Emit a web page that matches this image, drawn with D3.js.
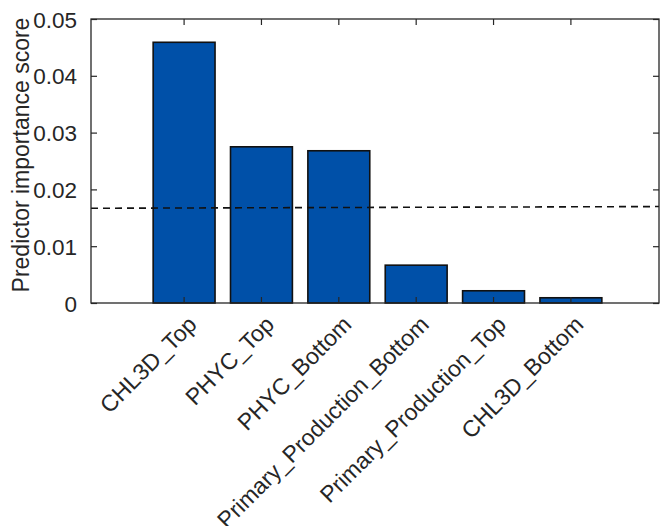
<!DOCTYPE html>
<html>
<head>
<meta charset="utf-8">
<script src="https://cdn.jsdelivr.net/npm/d3@7"></script>
<style>
  html, body { margin: 0; padding: 0; background: #fff; }
  svg { display: block; }
  text { font-family: "Liberation Sans", Arial, Helvetica, sans-serif; fill: #262626; }
</style>
</head>
<body>
<script>
// Predictor importance estimates
const predictors = ["CHL3D_Top", "PHYC_Top", "PHYC_Bottom",
                    "Primary_Production_Bottom", "Primary_Production_Top", "CHL3D_Bottom"];
const importance = [0.0459, 0.0275, 0.0268, 0.00666, 0.00215, 0.00092];
// threshold reference line, value at left and right ends of the axes
const thresholdEnds = [0.01668, 0.01698];
const yTicks = [0, 0.01, 0.02, 0.03, 0.04, 0.05];
const yTickLabels = ["0", "0.01", "0.02", "0.03", "0.04", "0.05"];

const W = 661, H = 526;
const box = { left: 91, right: 659, top: 19, bottom: 303 };

const svg = d3.select("body").append("svg")
  .attr("width", W).attr("height", H);

svg.append("rect").attr("width", W).attr("height", H).attr("fill", "#fff");

const x = d3.scaleBand()
  .domain(predictors)
  .range([99, 656])
  .paddingInner(0.2)
  .paddingOuter(0.7);

const y = d3.scaleLinear()
  .domain([0, 0.05])
  .range([box.bottom, box.top]);

// bars
svg.append("g")
  .selectAll("rect")
  .data(predictors)
  .join("rect")
  .attr("x", d => x(d))
  .attr("width", x.bandwidth())
  .attr("y", (d, i) => y(importance[i]))
  .attr("height", (d, i) => y(0) - y(importance[i]))
  .attr("fill", "#0050A8")
  .attr("stroke", "#111")
  .attr("stroke-width", 1.6);

// dashed threshold
const xl = d3.scaleLinear().domain([0, 1]).range([box.left, box.right]);
svg.append("line")
  .attr("x1", xl(0)).attr("x2", xl(1))
  .attr("y1", y(thresholdEnds[0])).attr("y2", y(thresholdEnds[1]))
  .attr("stroke", "#111")
  .attr("stroke-width", 1.6)
  .attr("stroke-dasharray", "7,5");

const axisColor = "#262626";
const tickLen = 6;

// left axis with inward ticks
const yAxisL = svg.append("g")
  .attr("transform", `translate(${box.left},0)`)
  .call(d3.axisLeft(y).tickValues(yTicks)
    .tickFormat((d, i) => yTickLabels[i])
    .tickSizeInner(-tickLen).tickSizeOuter(0).tickPadding(8 + tickLen));
// right axis ticks
const yAxisR = svg.append("g")
  .attr("transform", `translate(${box.right},0)`)
  .call(d3.axisRight(y).tickValues(yTicks).tickFormat("")
    .tickSizeInner(-tickLen).tickSizeOuter(0));
// bottom axis ticks at category centres
const xAxisB = svg.append("g")
  .attr("transform", `translate(0,${box.bottom})`)
  .call(d3.axisBottom(x).tickFormat("").tickSizeInner(-tickLen).tickSizeOuter(0));
// top axis ticks
const xAxisT = svg.append("g")
  .attr("transform", `translate(0,${box.top})`)
  .call(d3.axisTop(x).tickFormat("").tickSizeInner(-tickLen).tickSizeOuter(0));

[yAxisL, yAxisR, xAxisB, xAxisT].forEach(g => {
  g.select(".domain").remove();
  g.selectAll(".tick line").attr("stroke", axisColor).attr("stroke-width", 1.2);
});
yAxisL.selectAll(".tick text")
  .style("font-size", "22.5px")
  .attr("fill", axisColor)
  .attr("dy", "0.36em");

// axes box
svg.append("rect")
  .attr("x", box.left).attr("y", box.top)
  .attr("width", box.right - box.left).attr("height", box.bottom - box.top)
  .attr("fill", "none")
  .attr("stroke", axisColor)
  .attr("stroke-width", 1.3);

// rotated category labels
svg.append("g")
  .selectAll("text")
  .data(predictors)
  .join("text")
  .attr("transform", d => `translate(${x(d) + x.bandwidth() / 2 + 14},326) rotate(-45)`)
  .attr("text-anchor", "end")
  .style("font-size", "23px")
  .text(d => d);

// y-axis title
svg.append("text")
  .attr("transform", `translate(29,155) rotate(-90)`)
  .attr("text-anchor", "middle")
  .style("font-size", "23px")
  .text("Predictor importance score");
</script>
</body>
</html>
